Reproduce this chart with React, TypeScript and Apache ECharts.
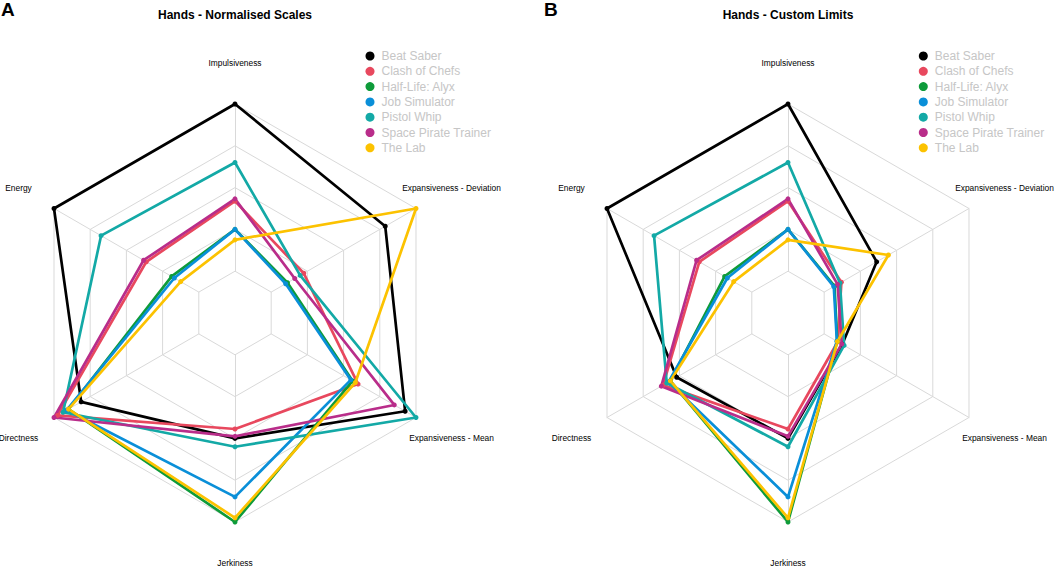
import React, { useEffect, useRef } from "react";
import * as echarts from "echarts";

const FONT = "'Liberation Sans', Arial, Helvetica, sans-serif";

const indicators = [
  "Impulsiveness",
  "Energy",
  "Directness",
  "Jerkiness",
  "Expansiveness - Mean",
  "Expansiveness - Deviation",
];

const games = [
  "Beat Saber",
  "Clash of Chefs",
  "Half-Life: Alyx",
  "Job Simulator",
  "Pistol Whip",
  "Space Pirate Trainer",
  "The Lab",
];

const colors = ["#000000", "#E8485E", "#0E9B3A", "#0A8FD8", "#13A9A6", "#B92D8A", "#FCC200"];

// Panel A – normalised scales (order follows `indicators`)
const normBeatSaber = [1.0, 1.0, 0.85, 0.6, 0.94, 0.83];
const normClashOfChefs = [0.535, 0.49, 0.98, 0.555, 0.68, 0.38];
const normHalfLifeAlyx = [0.4, 0.35, 0.92, 1.0, 0.65, 0.29];
const normJobSimulator = [0.4, 0.335, 0.93, 0.88, 0.64, 0.28];
const normPistolWhip = [0.72, 0.74, 0.95, 0.64, 1.0, 0.36];
const normSpacePirate = [0.546, 0.505, 1.0, 0.59, 0.88, 0.33];
const normTheLab = [0.35, 0.3, 0.92, 0.98, 0.665, 1.0];

// Panel B – custom limits
const customBeatSaber = [1.0, 1.0, 0.615, 0.6, 0.3, 0.49];
const customClashOfChefs = [0.535, 0.49, 0.69, 0.555, 0.275, 0.295];
const customHalfLifeAlyx = [0.4, 0.35, 0.65, 1.0, 0.272, 0.257];
const customJobSimulator = [0.4, 0.335, 0.66, 0.88, 0.27, 0.253];
const customPistolWhip = [0.72, 0.74, 0.67, 0.64, 0.31, 0.287];
const customSpacePirate = [0.546, 0.505, 0.7, 0.59, 0.297, 0.274];
const customTheLab = [0.35, 0.3, 0.65, 0.98, 0.273, 0.555];

const normalised = [
  normBeatSaber,
  normClashOfChefs,
  normHalfLifeAlyx,
  normJobSimulator,
  normPistolWhip,
  normSpacePirate,
  normTheLab,
];
const custom = [
  customBeatSaber,
  customClashOfChefs,
  customHalfLifeAlyx,
  customJobSimulator,
  customPistolWhip,
  customSpacePirate,
  customTheLab,
];

const R = 209;
const R0 = R * 0.2;
const CY = 313;

function makeRadar(cx: number) {
  return {
    center: [cx, CY],
    radius: [R0, R],
    startAngle: 90,
    shape: "polygon",
    splitNumber: 4,
    nameGap: 41,
    indicator: indicators.map((name) => ({ name, min: 0.2, max: 1 })),
    axisName: {
      color: "#000",
      fontSize: 8.4,
      fontFamily: FONT,
      align: "center",
      verticalAlign: "middle",
    },
    axisLine: { show: true, lineStyle: { color: "#d9d9d9", width: 1 } },
    splitLine: { show: true, lineStyle: { color: "#d9d9d9", width: 1 } },
    splitArea: { show: false },
    axisTick: { show: false },
    axisLabel: { show: false },
  };
}

function makeSeries(radarIndex: number, data: number[][]) {
  return {
    type: "radar",
    radarIndex,
    symbol: "circle",
    symbolSize: 5,
    data: games.map((g, i) => ({
      name: g,
      value: data[i],
      lineStyle: { color: colors[i], width: 2.7 },
      itemStyle: { color: colors[i] },
    })),
  };
}

function makeLegend(left: number) {
  return {
    orient: "vertical",
    left,
    top: 50,
    icon: "circle",
    itemWidth: 9,
    itemHeight: 9,
    itemGap: 3.3,
    padding: 0,
    selectedMode: false,
    textStyle: {
      color: "#c6c6c6",
      fontSize: 12,
      fontFamily: FONT,
      padding: [0, 0, 0, 2],
    },
    data: games,
  };
}

export default function App() {
  const ref = useRef<HTMLDivElement>(null);

  useEffect(() => {
    document.body.style.margin = "0";
    if (!ref.current) return;
    const chart = echarts.init(ref.current, null, { renderer: "svg" });
    chart.setOption({
      animation: false,
      backgroundColor: "#ffffff",
      title: [
        {
          text: "A",
          left: 1,
          top: 0,
          padding: 0,
          textStyle: { fontSize: 19, fontWeight: "bold", fontFamily: FONT, color: "#000" },
        },
        {
          text: "Hands - Normalised Scales",
          left: 235,
          top: 9,
          padding: 0,
          textAlign: "center",
          textStyle: { fontSize: 12, fontWeight: "bold", fontFamily: FONT, color: "#000" },
        },
        {
          text: "B",
          left: 544,
          top: 0,
          padding: 0,
          textStyle: { fontSize: 19, fontWeight: "bold", fontFamily: FONT, color: "#000" },
        },
        {
          text: "Hands - Custom Limits",
          left: 788,
          top: 9,
          padding: 0,
          textAlign: "center",
          textStyle: { fontSize: 12, fontWeight: "bold", fontFamily: FONT, color: "#000" },
        },
      ],
      legend: [makeLegend(365.5), makeLegend(918.8)],
      radar: [makeRadar(235), makeRadar(788)],
      series: [makeSeries(0, normalised), makeSeries(1, custom)],
    });
    return () => {
      chart.dispose();
    };
  }, []);

  return <div ref={ref} style={{ width: 1059, height: 570 }} />;
}
